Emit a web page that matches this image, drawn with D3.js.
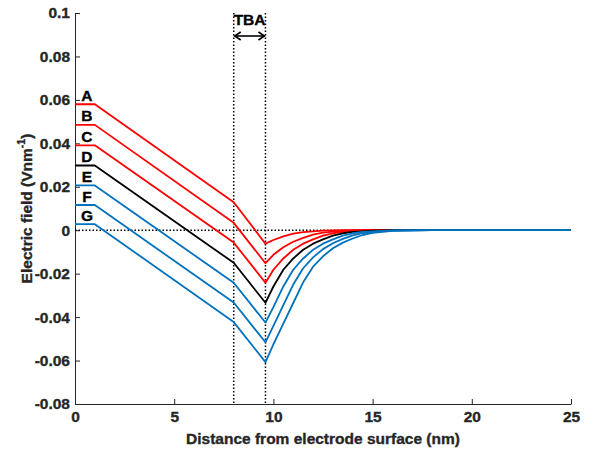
<!DOCTYPE html>
<html>
<head>
<meta charset="utf-8">
<script src="https://cdn.jsdelivr.net/npm/d3@7"></script>
<style>
  html, body { margin: 0; padding: 0; background: #fff; }
  svg { display: block; font-family: "Liberation Sans", Arial, sans-serif; }
</style>
</head>
<body>
<svg id="chart" width="595" height="450"></svg>
<script>
// ---- data ----
const xGrid = [0, 1, 8, 9.6, 10, 10.5, 11, 11.5, 12, 12.5, 13, 13.5, 14, 14.5, 15, 16, 18, 25];
const seriesNames = ["A", "B", "C", "D", "E", "F", "G"];
const seriesA = [0.0580, 0.0580, 0.0129, -0.0062, -0.0045, -0.0028, -0.0016, -0.0009, -0.0005, -0.0002, -0.0001, 0, 0, 0, 0, 0, 0, 0];
const seriesB = [0.0485, 0.0485, 0.0034, -0.0152, -0.0113, -0.0078, -0.0053, -0.0035, -0.0020, -0.0011, -0.0006, -0.0003, -0.0001, 0, 0, 0, 0, 0];
const seriesC = [0.0391, 0.0391, -0.0057, -0.0242, -0.0182, -0.0130, -0.0090, -0.0062, -0.0042, -0.0025, -0.0014, -0.0008, -0.0005, -0.0002, -0.0001, 0, 0, 0];
const seriesD = [0.0298, 0.0298, -0.0150, -0.0334, -0.0259, -0.0182, -0.0130, -0.0090, -0.0062, -0.0042, -0.0025, -0.0014, -0.0008, -0.0005, -0.0002, 0, 0, 0];
const seriesE = [0.0206, 0.0206, -0.0242, -0.0425, -0.0354, -0.0259, -0.0182, -0.0130, -0.0090, -0.0062, -0.0042, -0.0025, -0.0014, -0.0008, -0.0005, -0.0001, 0, 0];
const seriesF = [0.0116, 0.0116, -0.0333, -0.0516, -0.0440, -0.0345, -0.0250, -0.0175, -0.0125, -0.0087, -0.0060, -0.0040, -0.0024, -0.0013, -0.0008, -0.0002, 0, 0];
const seriesG = [0.0028, 0.0028, -0.0423, -0.0607, -0.0525, -0.0430, -0.0335, -0.0240, -0.0168, -0.0120, -0.0083, -0.0057, -0.0038, -0.0022, -0.0012, -0.0003, 0, 0];
const seriesColors = ["#ff0000", "#ff0000", "#ff0000", "#000000", "#0072bd", "#0072bd", "#0072bd"];
const xTicks = [0, 5, 10, 15, 20, 25];
const xTickLabels = ["0", "5", "10", "15", "20", "25"];
const yTicks = [0.1, 0.08, 0.06, 0.04, 0.02, 0, -0.02, -0.04, -0.06, -0.08];
const yTickLabels = ["0.1", "0.08", "0.06", "0.04", "0.02", "0", "-0.02", "-0.04", "-0.06", "-0.08"];
const tbaBounds = [8, 9.6];
const xDomain = [0, 25];
const yDomain = [-0.08, 0.1];

const allSeries = [seriesA, seriesB, seriesC, seriesD, seriesE, seriesF, seriesG];

// ---- layout ----
const W = 595, H = 450;
const margin = { left: 75, right: 24, top: 13, bottom: 46 };
const svg = d3.select("#chart");
const x = d3.scaleLinear().domain(xDomain).range([margin.left, W - margin.right]);
const y = d3.scaleLinear().domain(yDomain).range([H - margin.bottom, margin.top]);
const axisColor = "#262626";
const FS = "15.5px";

function boldText(sel, color) {
  return sel.attr("fill", color)
    .attr("stroke", color).attr("stroke-width", 0.35)
    .style("font-size", FS).style("font-weight", "bold")
    .style("font-family", "'Liberation Sans', Arial, sans-serif");
}

// ---- axes ----
const xAxis = d3.axisBottom(x).tickValues(xTicks)
  .tickFormat((d, i) => xTickLabels[i]).tickSizeInner(-5).tickSizeOuter(0).tickPadding(7);
const yAxis = d3.axisLeft(y).tickValues(yTicks)
  .tickFormat((d, i) => yTickLabels[i]).tickSizeInner(-5).tickSizeOuter(0).tickPadding(5);

const gx = svg.append("g").attr("transform", `translate(0,${y(yDomain[0])})`).call(xAxis);
const gy = svg.append("g").attr("transform", `translate(${x(xDomain[0])},0)`).call(yAxis);
[gx, gy].forEach(g => {
  g.select(".domain").attr("stroke", axisColor).attr("stroke-width", 1);
  g.selectAll(".tick line").attr("stroke", axisColor).attr("stroke-width", 1);
  boldText(g.selectAll(".tick text"), axisColor);
});

// ---- reference dotted lines ----
const dotted = svg.append("g").attr("stroke", "#000").attr("stroke-width", 1.5)
  .attr("stroke-dasharray", "1.5,2").attr("fill", "none");
dotted.append("line")
  .attr("x1", x(xDomain[0])).attr("x2", x(xDomain[1]))
  .attr("y1", y(0)).attr("y2", y(0));
tbaBounds.forEach(v => {
  dotted.append("line")
    .attr("x1", x(v)).attr("x2", x(v))
    .attr("y1", y(yDomain[1])).attr("y2", y(yDomain[0]));
});

// ---- series lines ----
const line = d3.line().x((d, i) => x(xGrid[i])).y(d => y(d));
const gLines = svg.append("g").attr("fill", "none").attr("stroke-width", 1.8)
  .attr("stroke-linejoin", "round");
allSeries.forEach((s, k) => {
  gLines.append("path").attr("d", line(s)).attr("stroke", seriesColors[k]);
});

// ---- series letters ----
allSeries.forEach((s, k) => {
  boldText(svg.append("text")
    .attr("x", (x(xGrid[0]) + x(xGrid[1])) / 2 + 2)
    .attr("y", y(s[0]) - 3.5)
    .attr("text-anchor", "middle"), "#000")
    .text(seriesNames[k]);
});

// ---- TBA annotation ----
const ax1 = x(tbaBounds[0]) + 1, ax2 = x(tbaBounds[1]) - 1, ay = 36;
boldText(svg.append("text")
  .attr("x", (x(tbaBounds[0]) + x(tbaBounds[1])) / 2)
  .attr("y", 25)
  .attr("text-anchor", "middle"), "#000")
  .text("TBA");
const arrow = svg.append("g").attr("stroke", "#000").attr("stroke-width", 1.6).attr("fill", "none");
arrow.append("line").attr("x1", ax1).attr("x2", ax2).attr("y1", ay).attr("y2", ay);
arrow.append("path").attr("d", `M${ax1 + 6},${ay - 4} L${ax1},${ay} L${ax1 + 6},${ay + 4}`);
arrow.append("path").attr("d", `M${ax2 - 6},${ay - 4} L${ax2},${ay} L${ax2 - 6},${ay + 4}`);

// ---- axis titles ----
boldText(svg.append("text")
  .attr("x", (x(xDomain[0]) + x(xDomain[1])) / 2)
  .attr("y", 444)
  .attr("text-anchor", "middle"), axisColor)
  .text("Distance from electrode surface (nm)");

const yt = boldText(svg.append("text")
  .attr("transform", `translate(32,${(y(yDomain[0]) + y(yDomain[1])) / 2}) rotate(-90)`)
  .attr("text-anchor", "middle"), axisColor);
yt.append("tspan").text("Electric field (Vnm");
yt.append("tspan").attr("dy", -7).style("font-size", "10.5px").text("-1");
yt.append("tspan").attr("dy", 7).text(")");
</script>
</body>
</html>
